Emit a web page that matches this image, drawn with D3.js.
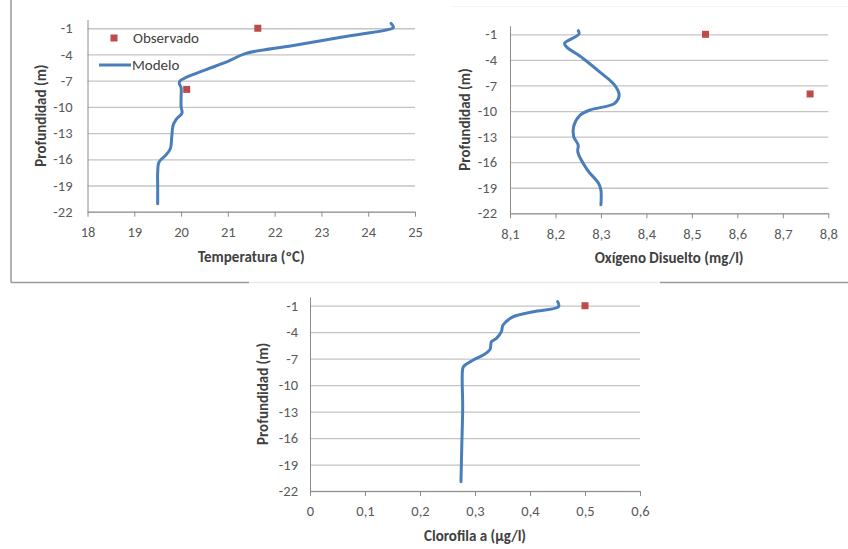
<!DOCTYPE html>
<html>
<head>
<meta charset="utf-8">
<script src="https://cdn.jsdelivr.net/npm/d3@7"></script>
<style>
  html, body { margin: 0; padding: 0; background: #fff; }
  svg { display: block; font-family: Carlito, Calibri, Lato, sans-serif; }
</style>
</head>
<body>
<svg id="chart" width="848" height="549"></svg>
<script>
// ---------- DATA ----------
const depthTicks = [-1, -4, -7, -10, -13, -16, -19, -22];

// Temperature
const tempTicks = [18, 19, 20, 21, 22, 23, 24, 25];
const tempModelDepth = [-0.45, -0.85, -1.0, -2.0, -3.0, -3.9, -4.8, -5.7, -6.6, -7.0, -7.3, -7.8, -9.0, -10.0, -10.7, -11.4, -12.1, -13.5, -14.8, -15.6, -16.3, -17.5, -19.0, -20.5, -21.1];
const tempModelValue = [24.49, 24.54, 24.52, 23.45, 22.37, 21.37, 21.0, 20.55, 20.12, 19.98, 19.96, 20.0, 20.0, 20.0, 20.02, 19.9, 19.83, 19.8, 19.77, 19.66, 19.53, 19.5, 19.5, 19.5, 19.5];
const tempObsDepth = [-1, -8];
const tempObsValue = [21.64, 20.12];

// Dissolved oxygen
const oxyTicks = [8.1, 8.2, 8.3, 8.4, 8.5, 8.6, 8.7, 8.8];
const oxyModelDepth = [-0.57, -0.96, -2.05, -2.45, -3.8, -5.4, -6.95, -8.1, -9.1, -9.88, -10.5, -11.8, -13.0, -14.0, -14.8, -16.9, -18.5, -19.3, -21.0];
const oxyModelValue = [8.25, 8.252, 8.22, 8.224, 8.26, 8.297, 8.33, 8.34, 8.33, 8.276, 8.254, 8.24, 8.24, 8.25, 8.249, 8.27, 8.295, 8.30, 8.30];
const oxyObsDepth = [-1, -8];
const oxyObsValue = [8.53, 8.76];

// Chlorophyll a
const chlTicks = [0, 0.1, 0.2, 0.3, 0.4, 0.5, 0.6];
const chlModelDepth = [-0.54, -1.1, -1.68, -2.24, -3.19, -3.94, -4.7, -5.07, -6.0, -6.59, -7.15, -7.9, -8.5, -12.6, -16.8, -20.95];
const chlModelValue = [0.4503, 0.452, 0.406, 0.37, 0.351, 0.348, 0.339, 0.33, 0.327, 0.315, 0.297, 0.279, 0.277, 0.2776, 0.276, 0.2745];
const chlObsDepth = [-1];
const chlObsValue = [0.5];

// ---------- DRAW ----------
const svg = d3.select("#chart");
const fmt = d => String(d).replace(".", ",");
const FONT = "Carlito, Calibri, Lato, sans-serif";

// frame lines
svg.append("line").attr("x1", 11).attr("x2", 11).attr("y1", 0).attr("y2", 282.5).attr("stroke", "#9a9a9a").attr("stroke-width", 1.5);
svg.append("line").attr("x1", 11).attr("x2", 249).attr("y1", 282.5).attr("y2", 282.5).attr("stroke", "#9a9a9a").attr("stroke-width", 1.5);
svg.append("line").attr("x1", 249).attr("x2", 660).attr("y1", 282.5).attr("y2", 282.5).attr("stroke", "#ececec").attr("stroke-width", 1.5);
svg.append("line").attr("x1", 660).attr("x2", 848).attr("y1", 282.5).attr("y2", 282.5).attr("stroke", "#9a9a9a").attr("stroke-width", 1.5);
svg.append("line").attr("x1", 450).attr("x2", 848).attr("y1", 6.5).attr("y2", 6.5).attr("stroke", "#f5f5f5").attr("stroke-width", 1);

function drawChart(cfg) {
  const x = d3.scaleLinear().domain([cfg.xTicks[0], cfg.xTicks[cfg.xTicks.length - 1]]).range([cfg.left, cfg.right]);
  const y = d3.scaleLinear().domain([-22, 0]).range([cfg.bottom, cfg.top]);
  const g = svg.append("g");

  // gridlines
  g.append("g")
    .attr("transform", `translate(${cfg.left},0)`)
    .call(d3.axisLeft(y).tickValues(depthTicks).tickSize(-(cfg.right - cfg.left)).tickFormat(""))
    .call(s => s.select(".domain").remove())
    .call(s => s.selectAll("line").attr("stroke", "#c4c4c4").attr("stroke-width", 1.3));

  // y axis
  const ya = g.append("g")
    .attr("transform", `translate(${cfg.left},0)`)
    .call(d3.axisLeft(y).tickValues(depthTicks).tickSize(0).tickPadding(cfg.yPad).tickFormat(d => d));
  ya.select(".domain").attr("stroke", "#8c8c8c").attr("stroke-width", 1);
  ya.selectAll("text").attr("fill", "#595959").style("font-size", "14.5px").style("font-family", FONT);

  // x axis
  const xa = g.append("g")
    .attr("transform", `translate(0,${cfg.bottom})`)
    .call(d3.axisBottom(x).tickValues(cfg.xTicks).tickSize(5).tickSizeOuter(0).tickPadding(10).tickFormat(fmt));
  xa.select(".domain").attr("stroke", "#8c8c8c").attr("stroke-width", 1);
  xa.selectAll("line").attr("stroke", "#8c8c8c");
  xa.selectAll("text").attr("fill", "#595959").style("font-size", "14.5px").style("font-family", FONT);

  // axis titles
  g.append("text")
    .attr("x", (cfg.left + cfg.right) / 2).attr("y", cfg.bottom + 50)
    .attr("text-anchor", "middle").attr("fill", "#404040")
    .style("font-size", "15px").style("font-weight", "bold")
    .text(cfg.xTitle);
  g.append("text")
    .attr("transform", `translate(${cfg.yTitleX},${(cfg.top + cfg.bottom) / 2}) rotate(-90)`)
    .attr("text-anchor", "middle").attr("dy", "0.35em").attr("fill", "#404040")
    .style("font-size", "15px").style("font-weight", "bold")
    .text("Profundidad (m)");

  // model line
  const pts = cfg.modelDepth.map((d, i) => [cfg.modelValue[i], d]);
  g.append("path")
    .datum(pts)
    .attr("fill", "none").attr("stroke", "#4a7ebb").attr("stroke-width", 3)
    .attr("stroke-linecap", "round").attr("stroke-linejoin", "round")
    .attr("d", d3.line().x(p => x(p[0])).y(p => y(p[1])).curve(d3.curveCatmullRom.alpha(0.5)));

  // observed markers
  const obs = cfg.obsDepth.map((d, i) => [cfg.obsValue[i], d]);
  g.selectAll("rect.obs").data(obs).enter().append("rect")
    .attr("class", "obs")
    .attr("x", p => x(p[0]) - 3.5).attr("y", p => y(p[1]) - 3.5)
    .attr("width", 7).attr("height", 7).attr("fill", "#be4b48");

  return { x, y, g };
}

drawChart({
  left: 87.5, right: 415, top: 19.5, bottom: 211.7,
  xTicks: tempTicks, yPad: 15, yTitleX: 41,
  xTitle: "Temperatura (ºC)",
  modelDepth: tempModelDepth, modelValue: tempModelValue,
  obsDepth: tempObsDepth, obsValue: tempObsValue
});

drawChart({
  left: 510, right: 828.3, top: 25.8, bottom: 213.3,
  xTicks: oxyTicks, yPad: 13, yTitleX: 465,
  xTitle: "Oxígeno Disuelto (mg/l)",
  modelDepth: oxyModelDepth, modelValue: oxyModelValue,
  obsDepth: oxyObsDepth, obsValue: oxyObsValue
});

drawChart({
  left: 310, right: 640, top: 296.9, bottom: 491,
  xTicks: chlTicks, yPad: 12, yTitleX: 262.5,
  xTitle: "Clorofila a (µg/l)",
  modelDepth: chlModelDepth, modelValue: chlModelValue,
  obsDepth: chlObsDepth, obsValue: chlObsValue
});

// legend (chart 1)
const lg = svg.append("g");
lg.append("rect").attr("x", 110.5).attr("y", 34.5).attr("width", 7).attr("height", 7).attr("fill", "#be4b48");
lg.append("text").attr("x", 133).attr("y", 38).attr("dy", "0.35em").attr("fill", "#404040").style("font-size", "15px").style("font-family", FONT).text("Observado");
lg.append("line").attr("x1", 99).attr("x2", 131).attr("y1", 65).attr("y2", 65).attr("stroke", "#4a7ebb").attr("stroke-width", 3);
lg.append("text").attr("x", 132).attr("y", 65).attr("dy", "0.35em").attr("fill", "#404040").style("font-size", "15px").style("font-family", FONT).text("Modelo");
</script>
</body>
</html>
